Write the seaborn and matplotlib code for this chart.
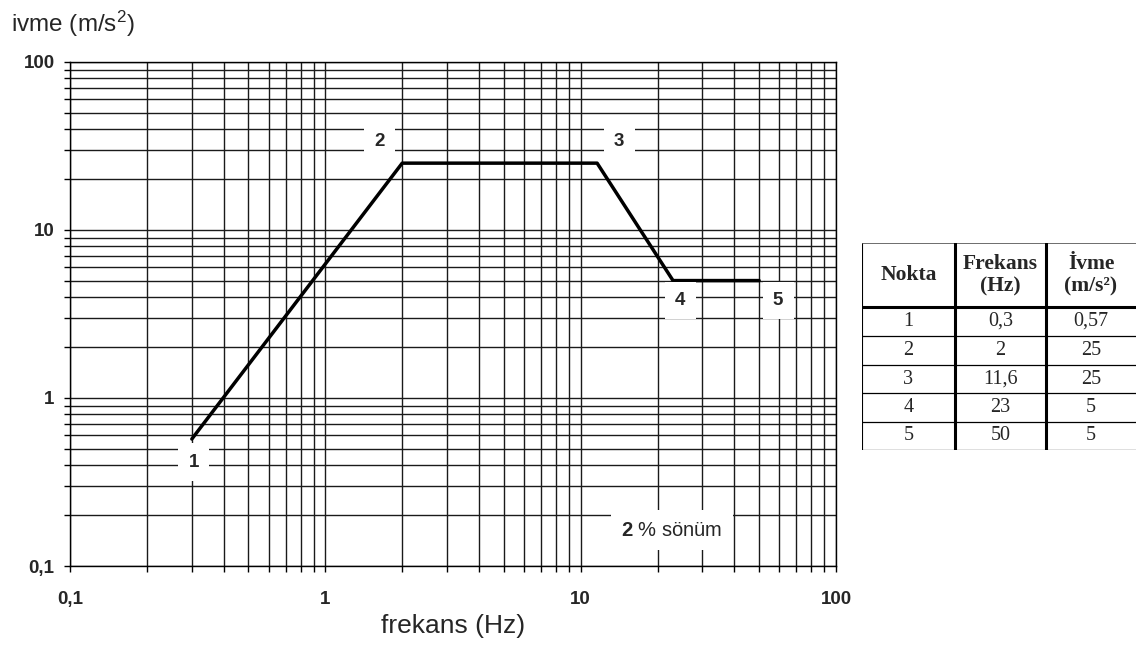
import numpy as np
import matplotlib.pyplot as plt
import seaborn as sns
from matplotlib.ticker import FixedLocator, FixedFormatter, LogLocator, NullFormatter

# spectrum corner points
point_ids = [1, 2, 3, 4, 5]
freq = [0.3, 2, 11.6, 23, 50]
accel = [0.57, 25, 25, 5, 5]

axis_ticks = [0.1, 1, 10, 100]
axis_tick_labels = ['0,1', '1', '10', '100']

table_header = ['Nokta', 'Frekans\n(Hz)', 'İvme\n(m/s²)']
damping_text = r'$\mathbf{2}$ % sönüm'

sns.set_theme(style='white')
plt.rcParams['font.family'] = ['Liberation Sans', 'DejaVu Sans']
plt.rcParams['mathtext.fontset'] = 'custom'
plt.rcParams['mathtext.rm'] = 'Liberation Sans'
plt.rcParams['mathtext.bf'] = 'Liberation Sans:bold'
plt.rcParams['mathtext.it'] = 'Liberation Sans:italic'

W, H = 1136, 648
fig = plt.figure(figsize=(W / 100, H / 100), dpi=100)
ax = fig.add_axes([70 / W, 1 - 566 / H, 766 / W, 504 / H])

sns.lineplot(x=freq, y=accel, ax=ax, color='black', lw=2.5,
             sort=False, estimator=None, zorder=5)

ax.set_xscale('log')
ax.set_yscale('log')
ax.set_xlim(0.1, 100)
ax.set_ylim(0.1, 100)

for axis in (ax.xaxis, ax.yaxis):
    axis.set_major_locator(FixedLocator(axis_ticks))
    axis.set_major_formatter(FixedFormatter(axis_tick_labels))
    axis.set_minor_locator(LogLocator(base=10, subs=np.arange(2, 10)))
    axis.set_minor_formatter(NullFormatter())

ax.grid(True, which='both', color='#1a1a1a', lw=1.0)
for sp in ax.spines.values():
    sp.set_color('black')
    sp.set_linewidth(1.0)

ax.tick_params(axis='both', which='both', direction='out', length=4,
               width=1.0, color='black', left=True, bottom=True)
ax.tick_params(axis='x', which='major', pad=14)
ax.tick_params(axis='y', which='major', pad=7)
for lab in ax.get_xticklabels() + ax.get_yticklabels():
    lab.set_fontweight('bold')
    lab.set_fontsize(13.5)

ax.set_xlabel('frekans (Hz)', fontsize=19, labelpad=4)
fig.text(11 / W, 1 - 24 / H, 'ivme (m/s$^2$)', fontsize=17.5,
         ha='left', va='center')

# point numbers with white boxes
offsets = {1: (2, -23), 2: (-23, 22), 3: (22, 22), 4: (7, -20), 5: (19, -20)}
for pid, f, a in zip(point_ids, freq, accel):
    ax.annotate(str(pid), (f, a), xytext=offsets[pid], textcoords='offset pixels',
                ha='center', va='center', fontsize=13.5, fontweight='bold', zorder=6,
                bbox=dict(boxstyle='square,pad=0.55', fc='white', ec='none'))

ax.text(0.786, 0.0714, damping_text, transform=ax.transAxes, fontsize=14.5,
        ha='center', va='center', zorder=6,
        bbox=dict(boxstyle='square,pad=0.5', fc='white', ec='none'))

# table on the right
tax = fig.add_axes([862 / W, 1 - 450 / H, 274 / W, 207 / H])
tax.set_xlim(0, 274)
tax.set_ylim(207, 0)
tax.axis('off')
col_edges = [0, 93, 184, 274]
row_edges = [0, 64, 93, 122, 150, 179, 207]

tax.plot([0, 0], [0, 207], color='black', lw=0.8)
tax.plot([0, 274], [0, 0], color='#555555', lw=0.6)
for x in col_edges[1:3]:
    tax.plot([x, x], [0, 207], color='black', lw=2.2)
tax.plot([0, 274], [64, 64], color='black', lw=2.2)
for y in row_edges[2:]:
    tax.plot([0, 274], [y, y], color='black', lw=0.9)


def fmt(v):
    return ('%g' % v).replace('.', ',')


for j, h in enumerate(table_header):
    cx = (col_edges[j] + col_edges[j + 1]) / 2
    tax.text(cx, 32, h, ha='center', va='center', fontsize=15.5, fontweight='bold',
             family=['Liberation Serif', 'DejaVu Serif'], linespacing=1.15)

for i, (pid, f, a) in enumerate(zip(point_ids, freq, accel)):
    cy = (row_edges[i + 1] + row_edges[i + 2]) / 2
    for j, v in enumerate([str(pid), fmt(f), fmt(a)]):
        cx = (col_edges[j] + col_edges[j + 1]) / 2
        tax.text(cx, cy, v, ha='center', va='center', fontsize=14.5,
                 family=['Liberation Serif', 'DejaVu Serif'])

fig.savefig('out.png', dpi=100)
